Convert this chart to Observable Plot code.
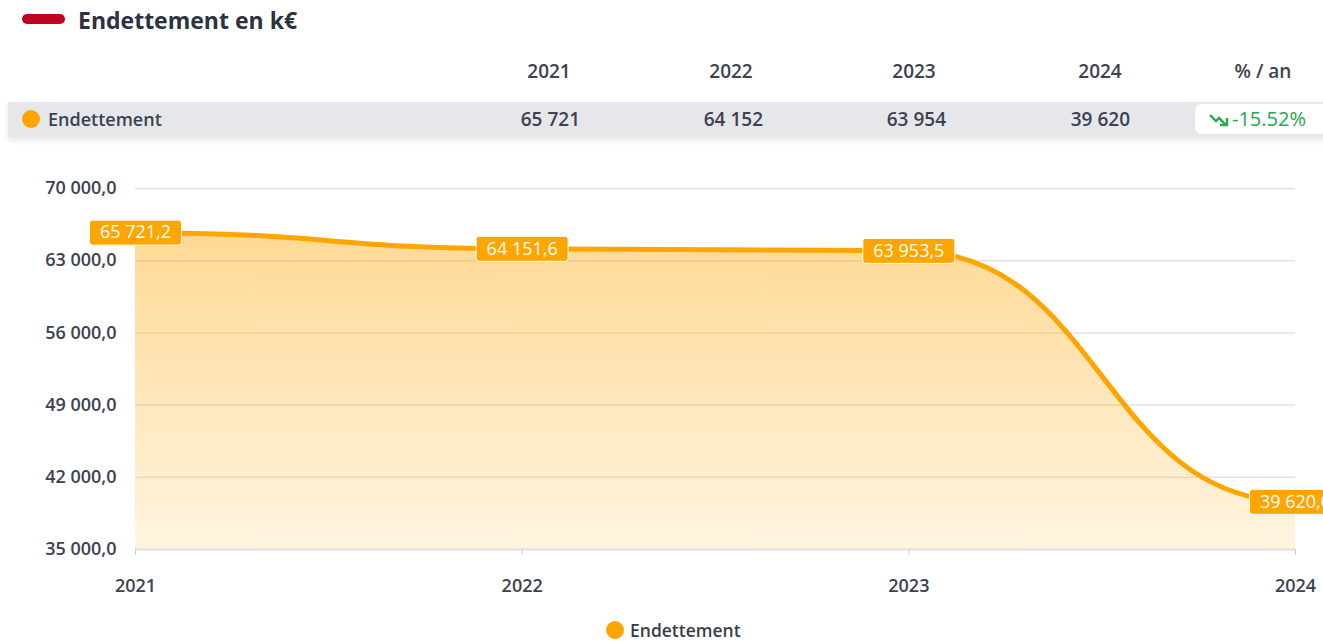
<!DOCTYPE html>
<html><head><meta charset="utf-8">
<script src="https://cdn.jsdelivr.net/npm/d3@7"></script>
<script src="https://cdn.jsdelivr.net/npm/@observablehq/plot@0.6"></script>
<style>
html,body{margin:0;padding:0;background:#fff;font-family:"Open Sans",Lato,sans-serif;}
#wrap{position:relative;width:1323px;height:641px;overflow:hidden;}
.abs{position:absolute;white-space:nowrap;}
#pill{left:22px;top:14px;width:43px;height:10px;border-radius:5px;background:#c0031e;}
#title{left:78px;top:0px;height:40px;line-height:40px;font-size:23px;font-weight:700;color:#2b3240;}
.hdr{top:56px;height:30px;line-height:30px;font-size:19px;font-weight:600;color:#3d4250;width:120px;text-align:center;}
#row{left:8px;top:102px;width:1330px;height:35px;background:#e6e7eb;box-shadow:0 3px 6px rgba(0,0,0,0.10);}
.dot{width:18px;height:18px;border-radius:9px;background:#ffa500;}
.cell{top:104px;height:30px;line-height:30px;font-size:19px;font-weight:600;color:#3d4250;width:120px;text-align:right;}
#badge{left:1195px;top:104px;width:150px;height:30px;border-radius:7px;background:#fff;color:#22a94a;font-size:20px;line-height:30px;padding-left:14px;box-sizing:border-box;}
#chart{left:0;top:170px;}
#legend{top:615px;height:30px;line-height:30px;font-size:17.5px;font-weight:600;color:#3a3f48;}
</style></head>
<body><div id="wrap"></div>
<script>
const years = [2021, 2022, 2023, 2024];
const values = [65721.2, 64151.6, 63953.5, 39620.0];
const seriesName = "Endettement";
const titleText = "Endettement en k€";
const rateLabel = "% / an";
const rateValue = "-15.52%";
const yTicks = [35000, 42000, 49000, 56000, 63000, 70000];

const fr = d3.formatLocale({decimal: ",", thousands: "\u00a0", grouping: [3], currency: ["", "€"]});
const f1 = fr.format(",.1f");
const f0 = fr.format(",.0f");
const data = years.map((y, i) => ({year: y, value: values[i]}));

const wrap = document.getElementById("wrap");
function el(cls, id, text, style) {
  const d = document.createElement("div");
  d.className = "abs " + (cls || "");
  if (id) d.id = id;
  if (text != null) d.textContent = text;
  if (style) Object.assign(d.style, style);
  wrap.appendChild(d);
  return d;
}
el("", "pill");
el("", "title", titleText);
const hdrX = [549, 731, 914, 1100];
years.forEach((y, i) => el("hdr", null, String(y), {left: (hdrX[i] - 60) + "px"}));
el("hdr", null, rateLabel, {left: (1263 - 60) + "px"});
el("", "row");
el("dot", null, null, {left: "22px", top: "110px"});
el("cell", null, seriesName, {left: "48px", textAlign: "left", width: "200px", fontSize: "18px"});
const cellR = [580, 763, 946, 1130];
values.forEach((v, i) => el("cell", null, f0(v), {left: (cellR[i] - 120) + "px"}));
const badge = el("", "badge");
badge.innerHTML = '<svg width="22" height="14" viewBox="0 0 22 14" style="vertical-align:-1px;margin-right:1px"><path d="M1 2 L7 8 L10 5 L17 12" fill="none" stroke="#22a94a" stroke-width="2.4"/><path d="M11 12 L18 12 L18 5" fill="none" stroke="#22a94a" stroke-width="2.4"/></svg>' + rateValue;

// custom rounded-rect symbol for value labels
const labelBox = {
  draw(ctx) {
    const w = 92, h = 25, r = 3, x0 = -w / 2, y0 = -h / 2;
    ctx.moveTo(x0 + r, y0);
    ctx.lineTo(x0 + w - r, y0);
    ctx.arcTo(x0 + w, y0, x0 + w, y0 + r, r);
    ctx.lineTo(x0 + w, y0 + h - r);
    ctx.arcTo(x0 + w, y0 + h, x0 + w - r, y0 + h, r);
    ctx.lineTo(x0 + r, y0 + h);
    ctx.arcTo(x0, y0 + h, x0, y0 + h - r, r);
    ctx.lineTo(x0, y0 + r);
    ctx.arcTo(x0, y0, x0 + r, y0, r);
    ctx.closePath();
  }
};

const defs = () => {
  const d = d3.create("svg:defs");
  const g = d.append("linearGradient").attr("id", "areaGrad").attr("x1", 0).attr("y1", 0).attr("x2", 0).attr("y2", 1);
  g.append("stop").attr("offset", "0%").attr("stop-color", "#ffa500").attr("stop-opacity", 0.42);
  g.append("stop").attr("offset", "100%").attr("stop-color", "#ffa500").attr("stop-opacity", 0.12);
  return d.node();
};

const chart = Plot.plot({
  width: 1323,
  height: 430,
  marginTop: 18,
  marginBottom: 51,
  marginLeft: 135,
  marginRight: 28,
  style: {fontFamily: "'Open Sans', Lato, sans-serif", fontSize: "18px", color: "#3d4250", overflow: "visible"},
  x: {domain: [2021, 2024], label: null},
  y: {domain: [35000, 70000], label: null},
  marks: [
    defs,
    Plot.gridY(yTicks, {stroke: "#e3e3e3", strokeOpacity: 1, strokeWidth: 1.5}),
    Plot.areaY(data, {x: "year", y1: 35000, y2: "value", curve: "bump-x", fill: "url(#areaGrad)"}),
    Plot.ruleY([35000], {stroke: "#dcdcdc", strokeWidth: 1.5}),
    Plot.axisX({ticks: years, tickFormat: d => String(d), tickSize: 6, tickPadding: 24, stroke: "#cccccc", fontWeight: 600, fontSize: 18, label: null}),
    Plot.axisY({ticks: yTicks, tickFormat: f1, tickSize: 0, tickPadding: 19, fontWeight: 600, fontSize: 18, label: null}),
    Plot.line(data, {x: "year", y: "value", curve: "bump-x", stroke: "#ffa500", strokeWidth: 5}),
    Plot.dot(data, {x: "year", y: "value", symbol: labelBox, r: 10, fill: "#ffa500", stroke: "#ffffff", strokeWidth: 1}),
    Plot.text(data, {x: "year", y: "value", text: d => f1(d.value), fill: "#ffffff", fontSize: 18, fontWeight: 400})
  ]
});
const holder = el("", "chart");
holder.appendChild(chart);
el("dot", null, null, {left: "606px", top: "621px"});
el("", "legend", seriesName, {left: "630px"});
</script>
</body></html>
